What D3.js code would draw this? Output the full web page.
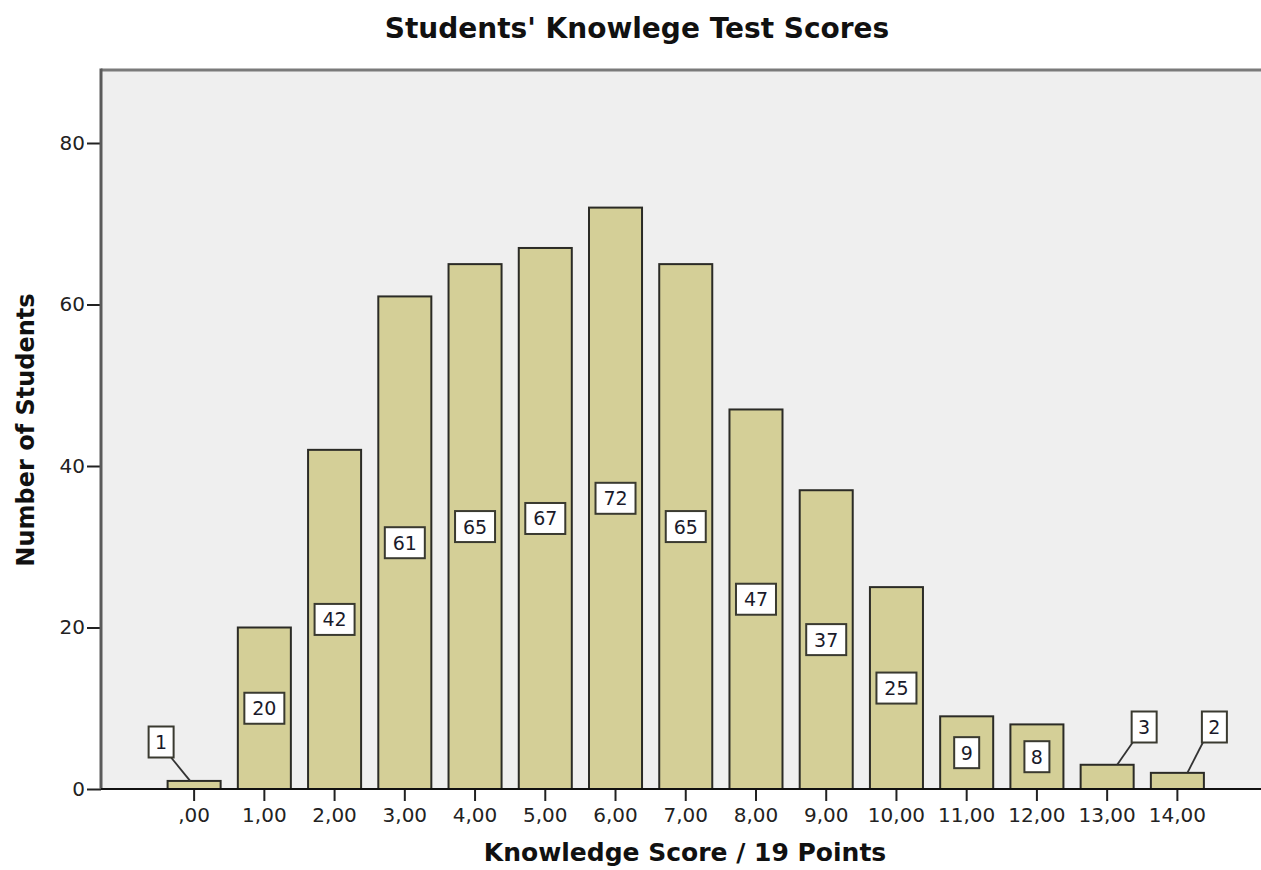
<!DOCTYPE html>
<html>
<head>
<meta charset="utf-8">
<script src="https://cdn.jsdelivr.net/npm/d3@7"></script>
<style>
  html, body { margin: 0; padding: 0; background: #ffffff; }
  svg { display: block; }
</style>
</head>
<body>
<svg id="chart" width="1261" height="870"></svg>
<script>
const categories = [",00","1,00","2,00","3,00","4,00","5,00","6,00","7,00","8,00","9,00","10,00","11,00","12,00","13,00","14,00"];
const counts = [1, 20, 42, 61, 65, 67, 72, 65, 47, 37, 25, 9, 8, 3, 2];
const yTicks = [0, 20, 40, 60, 80];
const titleText = "Students' Knowlege Test Scores";
const xTitle = "Knowledge Score / 19 Points";
const yTitle = "Number of Students";

const svg = d3.select("#chart");
const plot = { left: 101, top: 70, right: 1265, bottom: 789 };
const font = "DejaVu Sans, Verdana, sans-serif";

const x = d3.scaleBand()
  .domain(categories)
  .range([159, 1212.5])
  .paddingInner(0.245)
  .paddingOuter(0.1225);

const y = d3.scaleLinear().domain([0, 80]).range([plot.bottom, 143]);

// plot background
svg.append("rect")
  .attr("x", plot.left).attr("y", plot.top)
  .attr("width", plot.right - plot.left).attr("height", plot.bottom - plot.top)
  .attr("fill", "#efefef");

// top border
svg.append("line")
  .attr("x1", plot.left).attr("x2", plot.right)
  .attr("y1", plot.top).attr("y2", plot.top)
  .attr("stroke", "#7a7a7a").attr("stroke-width", 3);

// bars
const data = categories.map((c, i) => ({ c, v: counts[i] }));
svg.append("g").selectAll("rect").data(data).join("rect")
  .attr("x", d => x(d.c))
  .attr("y", d => y(d.v))
  .attr("width", x.bandwidth())
  .attr("height", d => y(0) - y(d.v))
  .attr("fill", "#d4cf97")
  .attr("stroke", "#2b2b26")
  .attr("stroke-width", 2);

// Y axis
const yAxis = svg.append("g")
  .attr("transform", `translate(${plot.left},0)`)
  .call(d3.axisLeft(y).tickValues(yTicks).tickSize(14).tickPadding(2).tickFormat(d3.format("d")));
yAxis.select(".domain").remove();
yAxis.selectAll(".tick line").attr("stroke", "#222").attr("stroke-width", 2);
yAxis.selectAll(".tick text").attr("font-family", font).attr("font-size", 20).attr("fill", "#222");
svg.append("line")
  .attr("x1", plot.left).attr("x2", plot.left)
  .attr("y1", plot.top - 1.5).attr("y2", plot.bottom)
  .attr("stroke", "#5a5a5a").attr("stroke-width", 3);

// X axis
const xAxis = svg.append("g")
  .attr("transform", `translate(0,${plot.bottom})`)
  .call(d3.axisBottom(x).tickSize(12).tickPadding(7));
xAxis.select(".domain").remove();
xAxis.selectAll(".tick line").attr("stroke", "#222").attr("stroke-width", 2);
xAxis.selectAll(".tick text").attr("font-family", font).attr("font-size", 20).attr("fill", "#222");
svg.append("line")
  .attr("x1", plot.left).attr("x2", plot.right)
  .attr("y1", plot.bottom).attr("y2", plot.bottom)
  .attr("stroke", "#111").attr("stroke-width", 2);

// value labels
const labelG = svg.append("g");
data.forEach((d, i) => {
  const cx = x(d.c) + x.bandwidth() / 2;
  const topY = y(d.v);
  const txt = String(d.v);
  const bw = txt.length === 1 ? 25 : 40;
  const bh = 31;
  let lx, ly, leader = null;
  if (d.v >= 5) {
    lx = cx; ly = (topY + y(0)) / 2;
  } else if (i === 0) {
    lx = cx - 33; ly = y(0) - 47;
    leader = [cx - 4, topY, lx + 10, ly + bh / 2];
  } else {
    lx = cx + 37; ly = y(0) - 62;
    leader = [cx + 10, topY, lx - bw / 2 + 1, ly + bh / 2];
  }
  if (leader) {
    labelG.append("line")
      .attr("x1", leader[0]).attr("y1", leader[1])
      .attr("x2", leader[2]).attr("y2", leader[3])
      .attr("stroke", "#333").attr("stroke-width", 1.8);
  }
  labelG.append("rect")
    .attr("x", lx - bw / 2).attr("y", ly - bh / 2)
    .attr("width", bw).attr("height", bh)
    .attr("fill", "#ffffff").attr("stroke", "#3a3a30").attr("stroke-width", 2);
  labelG.append("text")
    .attr("x", lx).attr("y", ly + 7)
    .attr("text-anchor", "middle")
    .attr("font-family", font).attr("font-size", 19)
    .attr("fill", "#1a1a2a")
    .text(txt);
});

// titles
svg.append("text")
  .attr("x", 637).attr("y", 38)
  .attr("text-anchor", "middle")
  .attr("font-family", font).attr("font-weight", "bold").attr("font-size", 28)
  .attr("fill", "#111")
  .text(titleText);

svg.append("text")
  .attr("x", 685).attr("y", 861)
  .attr("text-anchor", "middle")
  .attr("font-family", font).attr("font-weight", "bold").attr("font-size", 25)
  .attr("fill", "#111")
  .text(xTitle);

svg.append("text")
  .attr("transform", "translate(34,430) rotate(-90)")
  .attr("text-anchor", "middle")
  .attr("font-family", font).attr("font-weight", "bold").attr("font-size", 24)
  .attr("fill", "#111")
  .text(yTitle);
</script>
</body>
</html>
